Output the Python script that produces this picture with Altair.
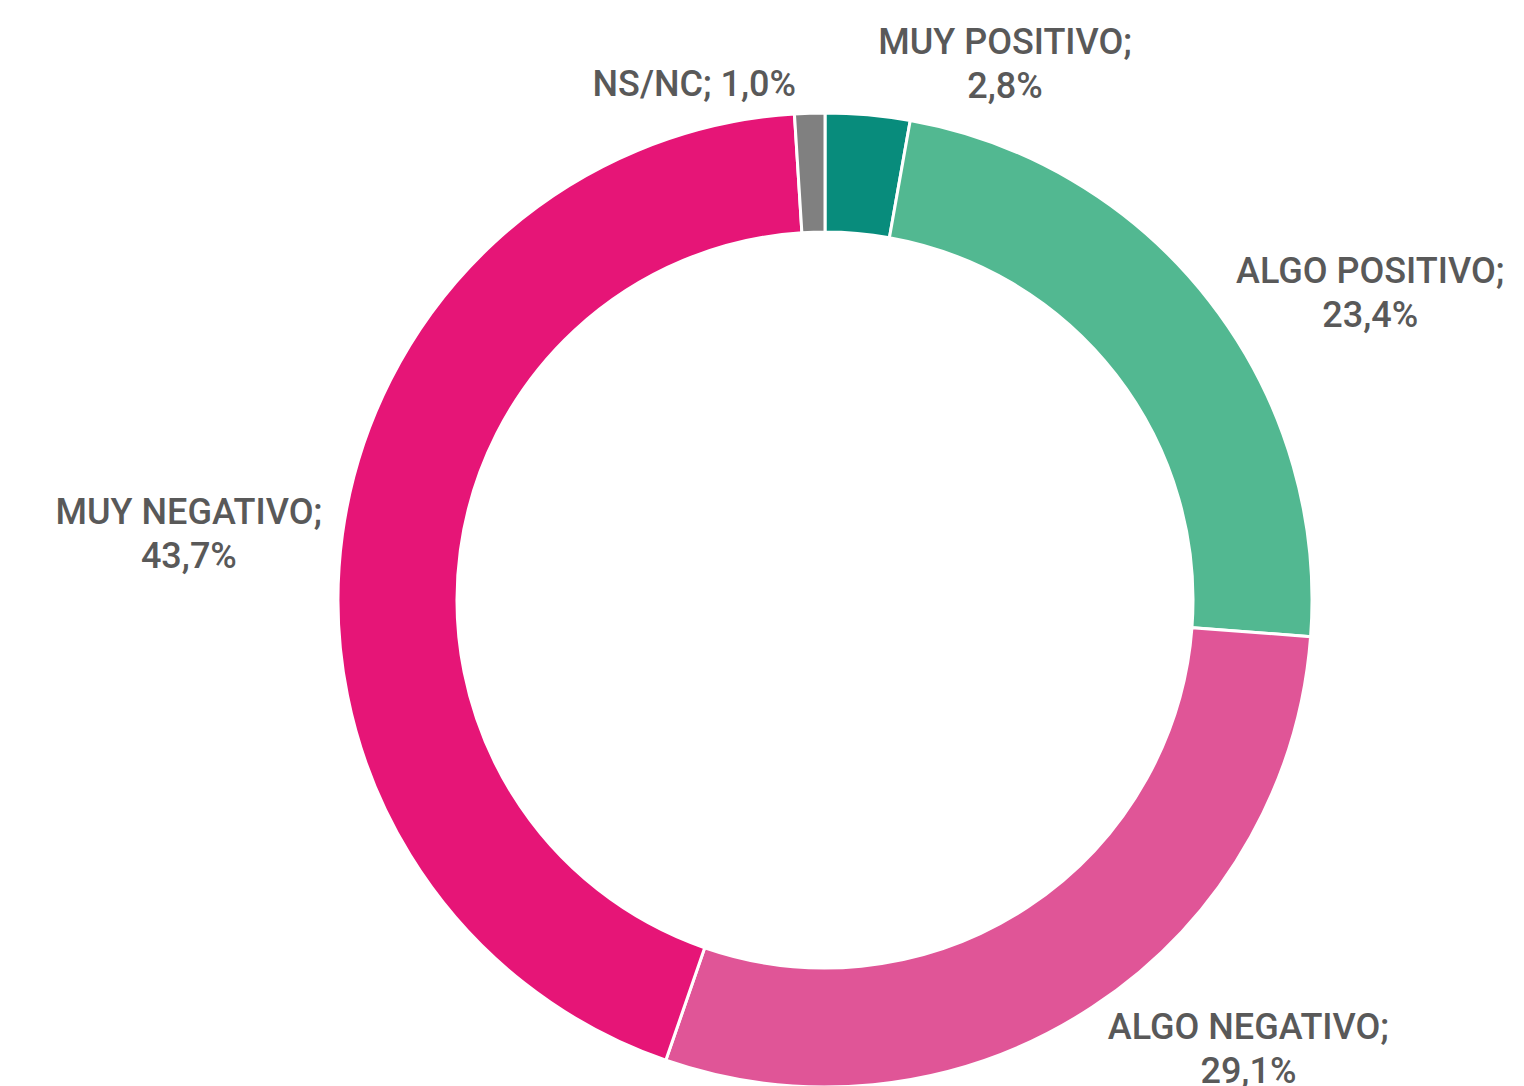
import altair as alt
import pandas as pd

categories = ["MUY POSITIVO", "ALGO POSITIVO", "ALGO NEGATIVO", "MUY NEGATIVO", "NS/NC"]
values = [2.8, 23.4, 29.1, 43.7, 1.0]
colors = ["#088C7C", "#52B891", "#E05597", "#E61577", "#808080"]

def fmt(v):
    return f"{v:.1f}".replace(".", ",") + "%"

labels = [
    (f"{c};\n{fmt(v)}" if len(c) > 6 else f"{c}; {fmt(v)}")
    for c, v in zip(categories, values)
]

df = pd.DataFrame({
    "cat": categories,
    "value": values,
    "order": list(range(len(categories))),
    "label": labels,
})

CX, CY = 817, 592
R_OUT, R_IN = 487, 368
R_LAB = R_OUT + 18
FS = 36
LH = 44
CHAR_W = 0.58 * FS
CAP = 0.75 * FS

base = alt.Chart(df)

arcs = base.mark_arc(outerRadius=R_OUT, innerRadius=R_IN, stroke="white", strokeWidth=3).encode(
    theta=alt.Theta("value:Q", stack=True),
    order=alt.Order("order:Q"),
    color=alt.Color("cat:N", scale=alt.Scale(domain=categories, range=colors), legend=None),
    x=alt.value(CX),
    y=alt.value(CY),
)

labels_layer = base.transform_window(
    cum="sum(value)", sort=[{"field": "order"}], frame=[None, 0]
).transform_joinaggregate(
    total="sum(value)"
).transform_calculate(
    mid="(datum.cum - datum.value/2) / datum.total * 2 * PI",
    nl="length(split(datum.label, '\\n'))",
    w=f"length(split(datum.label, '\\n')[0]) * {CHAR_W}",
).transform_calculate(
    ax=f"{CX} + {R_LAB} * sin(datum.mid)",
    ay=f"{CY} - {R_LAB} * cos(datum.mid)",
    c="cos(datum.mid)",
    s="sin(datum.mid)",
    h=f"(datum.nl - 1) * {LH} + {CAP}",
).transform_calculate(
    lx="datum.s >= 0 ? datum.ax + datum.w/2 : datum.ax - datum.w/2",
    ly=f"datum.c > 0.7 ? datum.ay - datum.h : (datum.c < -0.7 ? datum.ay - {0.3 * FS} : datum.ay - datum.h/2)",
).mark_text(
    align="center", baseline="top", lineBreak="\n", lineHeight=LH,
    font="Roboto", fontSize=FS, fontWeight=500, color="#595959",
).encode(
    x=alt.X("lx:Q", scale=None),
    y=alt.Y("ly:Q", scale=None),
    text="label:N",
)

chart = alt.layer(arcs, labels_layer).properties(
    width=1508, height=1078, autosize="none", padding=0
).configure_view(stroke=None)

chart.save("out.html", embed_options={"renderer": "svg", "actions": False})
